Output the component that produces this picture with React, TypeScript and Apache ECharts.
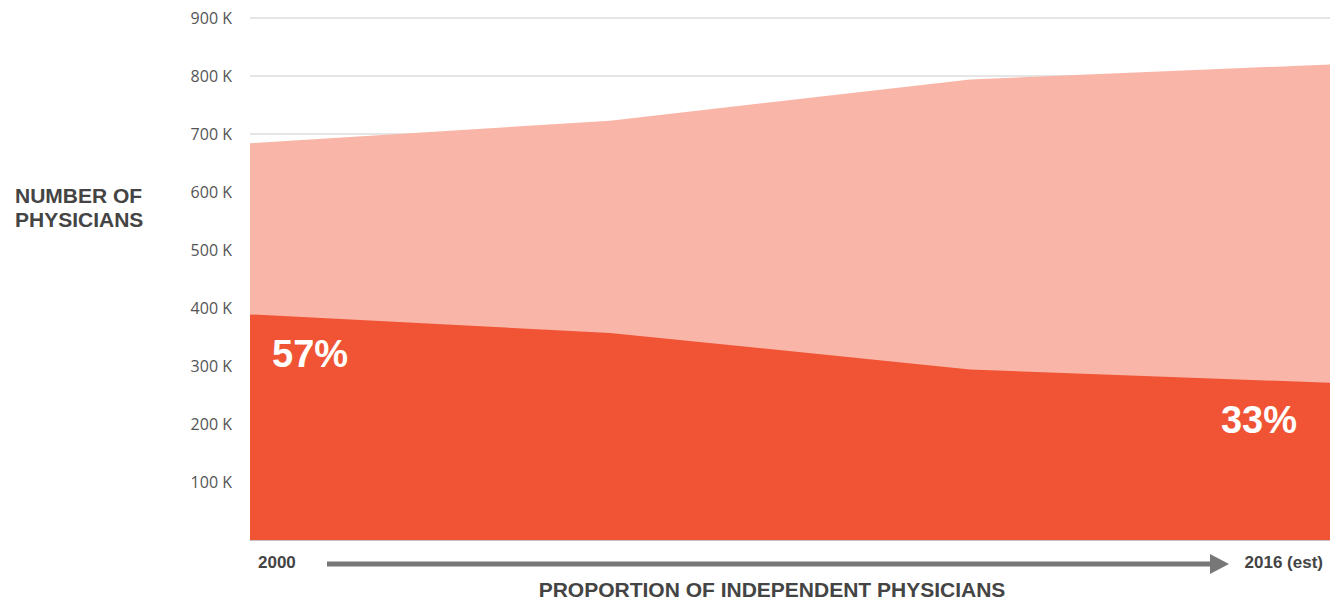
import React, { useEffect, useRef } from "react";
import * as echarts from "echarts";

// Data (thousands of physicians)
const years = ["2000", "2005", "2010", "2016"];
const totalPhysicians = [684, 723, 794, 820];
const independentPhysicians = [389, 357, 294, 271];
const yTickMax = 900;
const yTickStep = 100;
const endLabels = ["2000", "2016 (est)"];
const yAxisTitle = "NUMBER OF\nPHYSICIANS";
const xAxisTitle = "PROPORTION OF INDEPENDENT PHYSICIANS";

const DARK = "#F05434";
const LIGHT = "#F9B6A8";
const TITLE_FONT = '"Liberation Sans", Arial, sans-serif';

export default function App() {
  const ref = useRef<HTMLDivElement>(null);
  useEffect(() => {
    if (!ref.current) return;
    const chart = echarts.init(ref.current, undefined, { renderer: "svg" });
    const n = years.length;
    const pctFirst = Math.round((independentPhysicians[0] / totalPhysicians[0]) * 100);
    const pctLast = Math.round((independentPhysicians[n - 1] / totalPhysicians[n - 1]) * 100);
    chart.setOption({
      animation: false,
      grid: { left: 250, right: -10, top: 18, bottom: 59, containLabel: false },
      xAxis: {
        type: "category",
        data: years,
        boundaryGap: false,
        axisLabel: { show: false },
        axisTick: { show: false },
        axisLine: { show: true, lineStyle: { color: "#c4c4c4", width: 1 } },
        splitLine: { show: false },
        z: 10,
      },
      yAxis: {
        type: "value",
        min: 0,
        max: yTickMax,
        interval: yTickStep,
        axisLine: { show: false },
        axisTick: { show: false },
        splitLine: { show: true, lineStyle: { color: "#dcdcdc", width: 1.5 } },
        axisLabel: {
          margin: 18,
          fontSize: 16,
          color: "#555555",
          fontFamily: '"Open Sans", sans-serif',
          formatter: (v: number) => (v === 0 ? "" : `${v} K`),
        },
      },
      series: [
        {
          name: "Total",
          type: "line",
          data: totalPhysicians,
          symbol: "none",
          lineStyle: { width: 0 },
          areaStyle: { color: LIGHT, opacity: 1 },
          silent: true,
        },
        {
          name: "Independent",
          type: "line",
          data: independentPhysicians,
          symbol: "none",
          lineStyle: { width: 0 },
          areaStyle: { color: DARK, opacity: 1 },
          silent: true,
        },
      ],
      graphic: [
        {
          type: "text",
          left: 15,
          top: 183,
          style: {
            text: yAxisTitle,
            fontSize: 21,
            lineHeight: 24,
            fontWeight: "bold",
            fill: "#444444",
            fontFamily: TITLE_FONT,
          },
        },
        {
          type: "text",
          x: 258,
          y: 562,
          style: {
            text: endLabels[0],
            fontSize: 17,
            fontWeight: "bold",
            fill: "#444444",
            fontFamily: TITLE_FONT,
            verticalAlign: "middle",
          },
        },
        {
          type: "text",
          x: 1323,
          y: 562,
          style: {
            text: endLabels[1],
            fontSize: 17,
            fontWeight: "bold",
            fill: "#444444",
            fontFamily: TITLE_FONT,
            align: "right",
            verticalAlign: "middle",
          },
        },
        {
          type: "line",
          shape: { x1: 327, y1: 564, x2: 1212, y2: 564 },
          style: { stroke: "#777777", lineWidth: 5 },
        },
        {
          type: "polygon",
          shape: { points: [[1210, 554], [1229, 564], [1210, 574]] },
          style: { fill: "#777777" },
        },
        {
          type: "text",
          x: 772,
          y: 589,
          style: {
            text: xAxisTitle,
            fontSize: 21,
            fontWeight: "bold",
            fill: "#444444",
            fontFamily: TITLE_FONT,
            align: "center",
            verticalAlign: "middle",
          },
        },
        {
          type: "text",
          x: 272,
          y: 354,
          z: 100,
          style: {
            text: `${pctFirst}%`,
            fontSize: 38,
            fontWeight: "bold",
            fill: "#ffffff",
            fontFamily: TITLE_FONT,
            verticalAlign: "middle",
          },
        },
        {
          type: "text",
          x: 1297,
          y: 420,
          z: 100,
          style: {
            text: `${pctLast}%`,
            fontSize: 38,
            fontWeight: "bold",
            fill: "#ffffff",
            fontFamily: TITLE_FONT,
            align: "right",
            verticalAlign: "middle",
          },
        },
      ],
    });
    return () => chart.dispose();
  }, []);
  return (
    <div
      ref={ref}
      style={{ position: "fixed", left: 0, top: 0, width: 1330, height: 599, background: "#fff" }}
    />
  );
}
